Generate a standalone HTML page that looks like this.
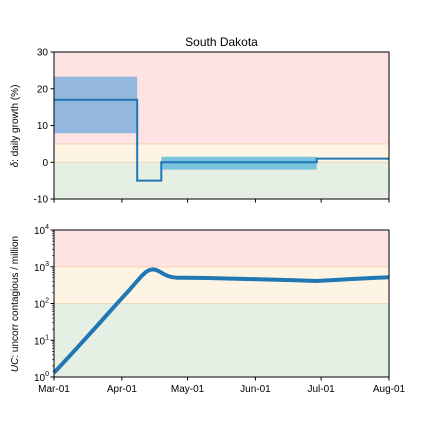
<!DOCTYPE html>
<html><head><meta charset="utf-8"><style>body{margin:0;background:#fff}svg{display:block;font-family:"Liberation Sans",sans-serif}</style></head>
<body>
<svg id="c" width="432" height="432"></svg>
<script>
const monthLabels=["Mar-01","Apr-01","May-01","Jun-01","Jul-01","Aug-01"];
const monthDays=[0,31,61,92,122,153];
const stepDays=[0,38,49,120,153];
const stepVals=[17,-5,0,1];
const bandDays=[[0,38],[49,120]];
const bandLo=[7.9,-2.0];
const bandHi=[23.3,1.5];
const topTicks=[-10,0,10,20,30];
const ucDays=[0,10,20,30,35,38,40,42,43.5,45,46.5,48,50,52,54,56,60,70,90,110,120,135,153];
const ucVals=[1.3,5.7,26,120,255,410,560,720,810,845,820,750,640,560,520,505,500,495,460,430,410,460,520];
const botTicks=[0,1,2,3,4];
const NS="http://www.w3.org/2000/svg";
const svg=document.getElementById('c');
const L=54,R=389;
const x=d=>L+(R-L)*d/153;
const yT=v=>52+(30-v)*147/40;
const yB=v=>377-Math.log10(v)*147/4;
function el(t,a,p){const e=document.createElementNS(NS,t);for(const k in a)e.setAttribute(k,a[k]);(p||svg).appendChild(e);return e;}
function txt(s,a){const e=el('text',a);e.textContent=s;return e;}
let r;
r=el('rect',{x:L,y:52,width:R-L,height:yT(5)-52,fill:'#fde3e4'});

r=el('rect',{x:L,y:yT(5),width:R-L,height:yT(0)-yT(5),fill:'#fdf4e3'});

r=el('rect',{x:L,y:yT(0),width:R-L,height:199-yT(0),fill:'#e5efe3'});

el('line',{x1:L,x2:R,y1:yT(5),y2:yT(5),stroke:'#fcd0b0','stroke-width':1});
el('line',{x1:L,x2:R,y1:yT(0),y2:yT(0),stroke:'#ecdcbc','stroke-width':1});
const bandCols=['#94b7df','#7bc4e0'];
bandDays.forEach((b,i)=>{const e=el('rect',{x:x(b[0]),y:yT(bandHi[i]),width:x(b[1])-x(b[0]),height:yT(bandLo[i])-yT(bandHi[i]),fill:bandCols[i]});
});
let d='';
stepVals.forEach((v,i)=>{d+=(i?'L':'M')+x(stepDays[i])+','+yT(v)+'L'+x(stepDays[i+1])+','+yT(v);});
let p=el('path',{d:d,fill:'none',stroke:'#1f77b4','stroke-width':2});

el('rect',{x:L,y:52,width:R-L,height:147,fill:'none',stroke:'#000','stroke-width':1});
topTicks.forEach(v=>{el('line',{x1:L-3.5,x2:L,y1:yT(v),y2:yT(v),stroke:'#000'});
const t=txt(v,{x:L-6,y:yT(v)+3.5,'font-size':10,'text-anchor':'end'});});
monthDays.forEach(dd=>el('line',{x1:x(dd),x2:x(dd),y1:199,y2:202.5,stroke:'#000'}));
let t=txt('South Dakota',{x:(L+R)/2,y:46,'font-size':12,'text-anchor':'middle'});

t=txt('',{transform:'translate(18,126) rotate(-90)','font-size':10,'text-anchor':'middle'});
t.innerHTML='<tspan font-style="italic">δ</tspan>: daily growth (%)';

r=el('rect',{x:L,y:230,width:R-L,height:yB(1000)-230,fill:'#fde3e4'});

r=el('rect',{x:L,y:yB(1000),width:R-L,height:yB(100)-yB(1000),fill:'#fdf4e3'});

r=el('rect',{x:L,y:yB(100),width:R-L,height:377-yB(100),fill:'#e5efe3'});

el('line',{x1:L,x2:R,y1:yB(1000),y2:yB(1000),stroke:'#fcd0b0'});
el('line',{x1:L,x2:R,y1:yB(100),y2:yB(100),stroke:'#ecdcbc'});
d='';ucDays.forEach((dd,i)=>{d+=(i?'L':'M')+x(dd).toFixed(1)+','+yB(ucVals[i]).toFixed(1);});
p=el('path',{d:d,fill:'none',stroke:'#1f77b4','stroke-width':4,'stroke-linejoin':'round'});

el('rect',{x:L,y:230,width:R-L,height:147,fill:'none',stroke:'#000'});
botTicks.forEach(k=>{el('line',{x1:L-3.5,x2:L,y1:yB(10**k),y2:yB(10**k),stroke:'#000'});
for(let m=2;m<10&&k<4;m++)el('line',{x1:L-2,x2:L,y1:yB(m*10**k),y2:yB(m*10**k),stroke:'#000','stroke-width':0.6});
const e=txt('',{x:L-5,y:yB(10**k)+4,'font-size':10,'text-anchor':'end'});
e.innerHTML='10<tspan dy="-5" font-size="7">'+k+'</tspan>';
});
monthDays.forEach((dd,i)=>{el('line',{x1:x(dd),x2:x(dd),y1:377,y2:380.5,stroke:'#000'});
const e=txt(monthLabels[i],{x:x(dd),y:392,'font-size':10,'text-anchor':'middle'});
});
t=txt('',{transform:'translate(18,304) rotate(-90)','font-size':10,'text-anchor':'middle'});
t.innerHTML='<tspan font-style="italic">UC</tspan>: uncorr contagious / million';

</script>
</body></html>
